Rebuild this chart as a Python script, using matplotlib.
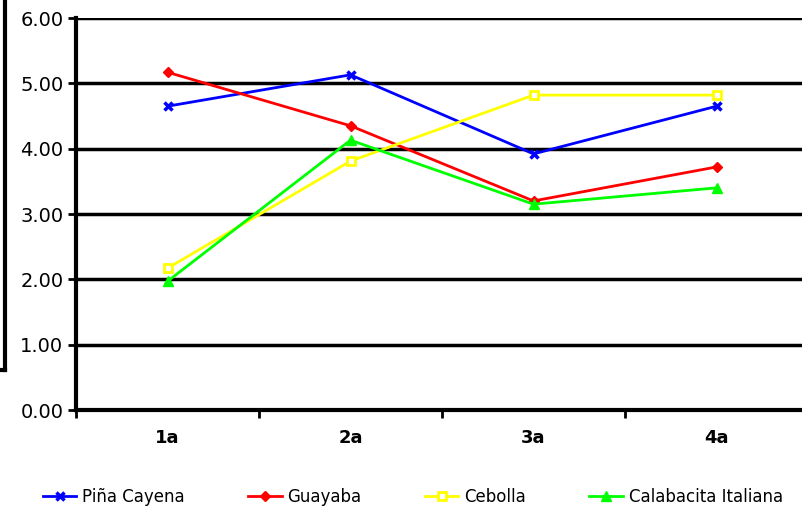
import matplotlib
matplotlib.use('Agg')
import matplotlib.pyplot as plt
from matplotlib.lines import Line2D

# Data
categories = ['1a', '2a', '3a', '4a']
pina = [4.65, 5.13, 3.92, 4.65]
guayaba = [5.17, 4.35, 3.20, 3.72]
cebolla = [2.17, 3.81, 4.82, 4.82]
calabacita = [1.97, 4.13, 3.15, 3.40]
yticks = [0, 1, 2, 3, 4, 5, 6]

W, H = 802, 509
fig = plt.figure(figsize=(W / 100, H / 100), dpi=100)
# axes box: x from 76 to 808 px, y from 18 to 410 px
ax = fig.add_axes([76 / W, 1 - 410 / H, (808 - 76) / W, (410 - 18) / H])

x = list(range(len(categories)))
ax.plot(x, pina, color='#0000ff', lw=2, marker='x', ms=6, mew=2.5, label='Piña Cayena', zorder=5)
ax.plot(x, guayaba, color='#ff0000', lw=2, marker='D', ms=5, label='Guayaba', zorder=5)
ax.plot(x, cebolla, color='#ffff00', lw=2, marker='s', ms=6, mfc='white', mew=2, label='Cebolla', zorder=5)
ax.plot(x, calabacita, color='#00ff00', lw=2, marker='^', ms=7, label='Calabacita Italiana', zorder=5)

ax.set_xlim(-0.5, 3.5)
ax.set_ylim(0, 6)
ax.set_yticks(yticks)
ax.set_yticklabels(['{:.2f}'.format(v) for v in yticks])
ax.yaxis.grid(True, color='black', lw=2.5)
ax.set_axisbelow(True)

for s in ['top', 'right']:
    ax.spines[s].set_visible(False)
ax.spines['left'].set_linewidth(3)
ax.spines['bottom'].set_linewidth(3)

# category labels between boundary ticks
ax.set_xticks([-0.5, 0.5, 1.5, 2.5, 3.5])
ax.set_xticklabels([])
ax.set_xticks(x, minor=True)
ax.set_xticklabels(categories, minor=True, fontsize=13, fontweight='bold')
ax.tick_params(axis='x', which='minor', length=0, pad=14)
ax.tick_params(axis='x', which='major', length=6, width=2, direction='out')
ax.tick_params(axis='y', length=6, width=2, labelsize=14, pad=3)

# bracket on left edge
fig.add_artist(Line2D([5 / W, 5 / W], [1.0, 1 - 370 / H], transform=fig.transFigure, color='black', lw=3))
fig.add_artist(Line2D([0, 5 / W], [1 - 370 / H, 1 - 370 / H], transform=fig.transFigure, color='black', lw=3))

fig.legend(loc='center left', bbox_to_anchor=(43 / W, 1 - 497 / H), ncol=4, frameon=False,
           prop={'size': 12}, borderpad=0, borderaxespad=0,
           handlelength=2.0, columnspacing=3.8, handletextpad=0.36)

fig.savefig('out.png', dpi=100)
